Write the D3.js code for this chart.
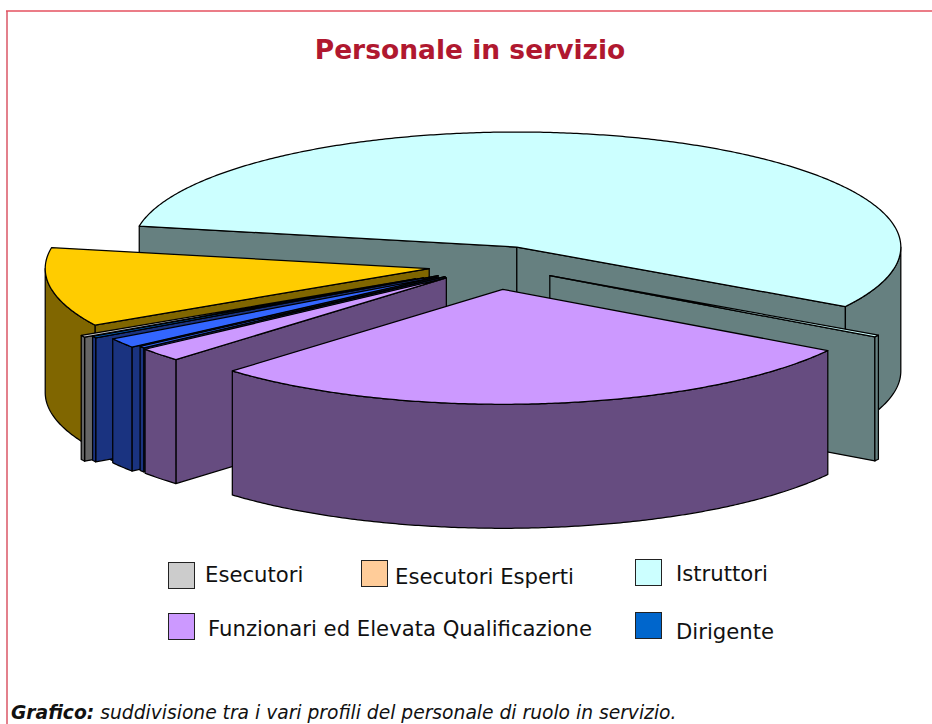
<!DOCTYPE html>
<html>
<head>
<meta charset="utf-8">
<script src="https://cdn.jsdelivr.net/npm/d3@7"></script>
<style>
html,body{margin:0;padding:0;background:#fff;}
svg{display:block;font-family:"DejaVu Sans",Verdana,sans-serif;}
</style>
</head>
<body>
<svg id="c" width="932" height="724"></svg>
<script>
// DATA (slice sizes in percent, clockwise from the first slice)
const sliceNames  = ["Istruttori","Istruttori (2)","Funzionari ed Elevata Qualificazione","Funzionari (2)","Dirigente (3)","Dirigente (2)","Dirigente (4)","Dirigente","Esecutori","Esecutori Esperti"];
const sliceValues = [55.74, 0.28, 28.5, 1.92, 0.25, 1.39, 0.28, 0.25, 0.28, 11.11];
const sliceExplode = [0.17, 0.172, 0.21, 0.165, 0.16, 0.18, 0.17, 0.213, 0.235, 0.17];
const sliceTop  = ["#CCFFFF","#CCFFFF","#CC99FF","#CC99FF","#3366FF","#3366FF","#3366FF","#0066CC","#CCCCCC","#FFCC00"];
const sliceSide = ["#668080","#668080","#664C80","#664C80","#1A3380","#1A3380","#1A3380","#1A3380","#666666","#806600"];
const paintOrder = [0,1,9,8,6,7,5,4,3,2];
const legendNames = ["Esecutori","Esecutori Esperti","Istruttori","Funzionari ed Elevata Qualificazione","Dirigente"];
const legendColors = ["#CCCCCC","#FFCC99","#CCFFFF","#CC99FF","#0066CC"];

const svg = d3.select("#c");
const rad = Math.PI/180;

// projection of the flat pie plane to the screen
const cx = 493.6, cy = 265.3, rx = 384, ry = 115, depth = 124;
const X = d3.scaleLinear().domain([-1,1]).range([cx-rx,cx+rx]);
const Y = d3.scaleLinear().domain([-1,1]).range([cy-ry,cy+ry]);

// d3.pie angles: 0 = 12 o'clock, clockwise
const pie = d3.pie().sort(null).value(d=>d).startAngle(280.5*rad).endAngle((280.5+360)*rad);
const arcs = pie(sliceValues);

function pt(o,a,r,dz){ // a: screen angle in radians, clockwise from +x
  return [X(o[0]+r*Math.cos(a)), Y(o[1]+r*Math.sin(a))+(dz||0)];
}
const line = d3.line();
const step = 0.5*rad;

// border
svg.append("path").attr("d",line([[7,724],[7,11]]))
  .attr("fill","none").attr("stroke","#E3808C").attr("stroke-width",2);
svg.append("path").attr("d",line([[6,11],[932,11]]))
  .attr("fill","none").attr("stroke","#E4505F").attr("stroke-width",1.3);

const g = svg.append("g").attr("stroke","#000").attr("stroke-width",1.25).attr("stroke-linejoin","round");

paintOrder.forEach(i=>{
  const s = arcs[i];
  const a0 = s.startAngle-Math.PI/2, a1 = s.endAngle-Math.PI/2;
  const m = (a0+a1)/2, e = sliceExplode[i];
  const o = [e*Math.cos(m), e*Math.sin(m)];
  const apex = pt(o,0,0);
  const side = sliceSide[i], top = sliceTop[i];
  const wedge = g.append("g").attr("class","slice");

  // straight cut faces that look at the viewer
  [[a0,-Math.cos(a0)],[a1,Math.cos(a1)]].forEach(([a,facing])=>{
    if(facing>0){
      const c = pt(o,a,1);
      wedge.append("path").attr("fill",side)
        .attr("d",line([apex,c,[c[0],c[1]+depth],[apex[0],apex[1]+depth]])+"Z");
    }
  });
  // outer wall: only the parts with the rim in front
  [0,2*Math.PI].forEach(k=>{
    const from = Math.max(a0,k), to = Math.min(a1,k+Math.PI);
    if(to>from){
      const as = d3.range(from,to,step).concat([to]);
      const up = as.map(a=>pt(o,a,1));
      const dn = as.map(a=>pt(o,a,1,depth)).reverse();
      wedge.append("path").attr("fill",side).attr("d",line(up.concat(dn))+"Z");
    }
  });
  // top face
  const as = d3.range(a0,a1,step).concat([a1]);
  wedge.append("path").attr("fill",top).attr("d",line([apex].concat(as.map(a=>pt(o,a,1))))+"Z");
});

// title
svg.append("text").attr("x",470).attr("y",59).attr("text-anchor","middle")
  .attr("font-size",26.5).attr("font-weight","bold").attr("fill","#B0182F").text("Personale in servizio");

// legend
const legendSpots = [[168,562,205,582],[361,560,395,584],[635,559,676,581],[168,613,208,636],[635,612,676,639]];
const lg = svg.append("g");
legendNames.forEach((n,i)=>{
  const p = legendSpots[i];
  lg.append("rect").attr("x",p[0]+.5).attr("y",p[1]+.5).attr("width",26).attr("height",26)
    .attr("fill",legendColors[i]).attr("stroke","#222").attr("stroke-width",1);
  lg.append("text").attr("x",p[2]).attr("y",p[3]).attr("font-size",21.2).attr("fill","#111").text(n);
});

// caption
const cap = svg.append("text").attr("x",11).attr("y",719).attr("font-size",18.7).attr("font-style","italic").attr("fill","#111");
cap.append("tspan").attr("font-weight","bold").text("Grafico:");
cap.append("tspan").text(" suddivisione tra i vari profili del personale di ruolo in servizio.");
</script>
</body>
</html>
